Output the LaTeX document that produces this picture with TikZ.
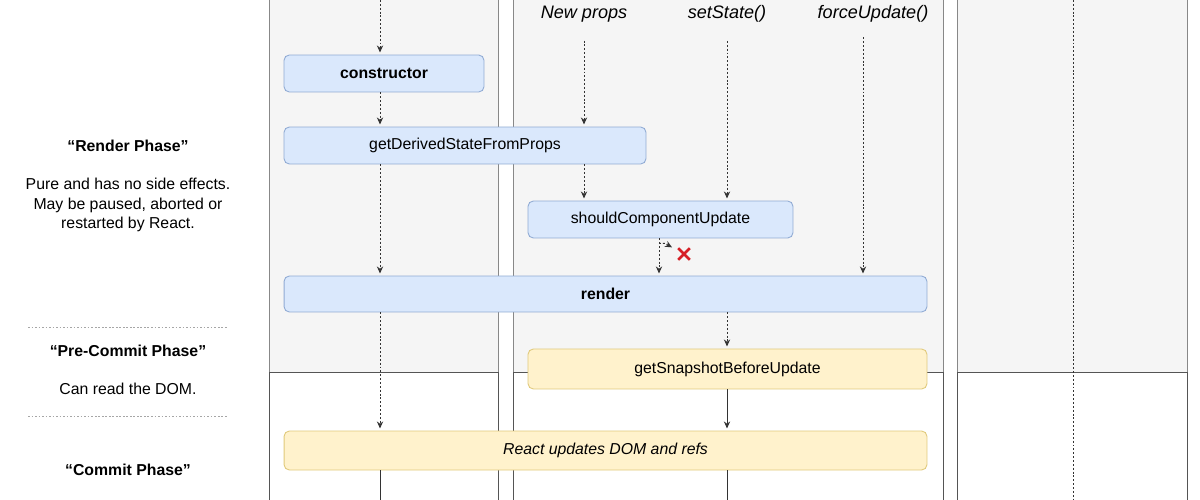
\documentclass[tikz,border=0pt]{standalone}
\usepackage{fontspec}
\setmainfont{Liberation Sans}
\usetikzlibrary{arrows.meta,calc,shapes.misc}

\definecolor{lanegray}{HTML}{F5F5F5}
\definecolor{laneline}{HTML}{888888}
\definecolor{lanedark}{HTML}{555555}
\definecolor{bluefill}{HTML}{DAE8FC}
\definecolor{blueline}{HTML}{8FAAD3}
\definecolor{yelfill}{HTML}{FFF2CC}
\definecolor{yelline}{HTML}{E0C97A}
\definecolor{inkgray}{HTML}{333333}
\definecolor{nored}{HTML}{D61F26}

\begin{document}
\begin{tikzpicture}[x=0.02cm,y=-0.02cm,
  box/.style={draw=blueline,fill=bluefill,rounded corners=3pt,line width=0.5pt,
    minimum height=0.74cm,inner sep=0pt,font=\fontsize{9}{11}\selectfont},
  boldbox/.style={box,font=\fontsize{9}{11}\selectfont\bfseries},
  yelbox/.style={box,draw=yelline,fill=yelfill},
  flow/.style={draw=inkgray,dash pattern=on 1.1pt off 1.1pt,line width=0.55pt,
    -{Stealth[length=4pt,width=3.6pt]},shorten >=1.2pt},
  push/.style={draw=inkgray,line width=0.55pt,
    -{Stealth[length=4pt,width=3.6pt]},shorten >=1.2pt},
  stem/.style={draw=inkgray,line width=0.55pt},
  title/.style={font=\fontsize{10.3}{12}\selectfont\itshape},
  phase/.style={font=\fontsize{9}{11}\selectfont\bfseries},
  note/.style={align=center,font=\fontsize{9}{11.2}\selectfont}]

\useasboundingbox (0,0) rectangle (1200,500);

% lanes
\draw[laneline,fill=lanegray] (269,-5) rectangle (498,372);
\draw[laneline,fill=lanegray] (513,-5) rectangle (943,372);
\draw[laneline,fill=lanegray] (957,-5) rectangle (1187,372);
\draw[lanedark] (269,372) rectangle (498,505);
\draw[lanedark] (513,372) rectangle (943,505);
\draw[lanedark] (957,372) rectangle (1187,505);

% phases
\node[phase] (rphase) at (128,146) {“Render Phase”};
\node[note] (rnote) at (128,205) {Pure and has no side effects.\\May be paused, aborted or\\restarted by React.};
\draw[gray!70,dash pattern=on 1pt off 1pt] (28,327) -- (227,327);
\node[phase] (pphase) at (128,351) {“Pre-Commit Phase”};
\node[note] (pnote) at (128,389) {Can read the DOM.};
\draw[gray!70,dash pattern=on 1pt off 1pt] (28,416) -- (227,416);
\node[phase] (cphase) at (128,470) {“Commit Phase”};

% triggers
\node[title] (props) at (584,14) {New props};
\node[title] (state) at (727,14) {setState()};
\node[title] (force) at (873,14) {forceUpdate()};

\coordinate (lane1) at (380,0);
\coordinate (laneU) at (659,0);
\coordinate (laneF) at (863,0);
\coordinate (laneR) at (1073,0);
\coordinate (bottom) at (0,500);

% methods
\node[boldbox,minimum width=4cm] (ctor) at (384,73.5) {constructor};
\node[box,minimum width=7.24cm] (gdsfp) at (465,145.5) {getDerivedStateFromProps};
\node[box,minimum width=5.3cm] (scu) at (660.5,219.5) {shouldComponentUpdate};
\node[boldbox,minimum width=12.86cm,minimum height=0.72cm] (render) at (605.5,294) {render};
\node[yelbox,minimum width=7.98cm,minimum height=0.8cm] (snap) at (727.5,369) {getSnapshotBeforeUpdate};
\node[yelbox,minimum width=12.86cm,minimum height=0.78cm,font=\fontsize{9}{11}\selectfont\itshape] (dom) at (605.5,450.5) {React updates DOM and refs};
\node[cross out,draw=nored,line width=1.5pt,minimum size=0.18cm,inner sep=0pt] (nope) at (684,254) {};

% mounting
\draw[flow] (lane1) -- (ctor.north -| lane1);
\draw[flow] (ctor.south -| lane1) -- (gdsfp.north -| lane1);
\draw[flow] (gdsfp.south -| lane1) -- (render.north -| lane1);
\draw[flow] (render.south -| lane1) -- (dom.north -| lane1);
\draw[stem] (dom.south -| lane1) -- (bottom -| lane1);

% updating
\draw[flow,shorten <=7pt] (props.south) -- (gdsfp.north -| props);
\draw[flow] (gdsfp.south -| props) -- (scu.north -| props);
\draw[flow,shorten <=7pt] (state.south) -- (scu.north -| state);
\draw[flow] (scu.south -| laneU) -- (render.north -| laneU);
\draw[flow,shorten >=4pt] ($(scu.south -| laneU)+(0,5)$) -- ++(6,0) -- (nope);
\draw[flow,shorten <=5pt] (force.south -| laneF) -- (render.north -| laneF);
\draw[flow] (render.south -| state) -- (snap.north -| state);
\draw[push] (snap.south -| state) -- (dom.north -| state);
\draw[stem] (dom.south -| state) -- (bottom -| state);

% unmounting
\draw[inkgray,dash pattern=on 1.1pt off 1.1pt,line width=0.55pt] (laneR) -- (bottom -| laneR);

\end{tikzpicture}
\end{document}
